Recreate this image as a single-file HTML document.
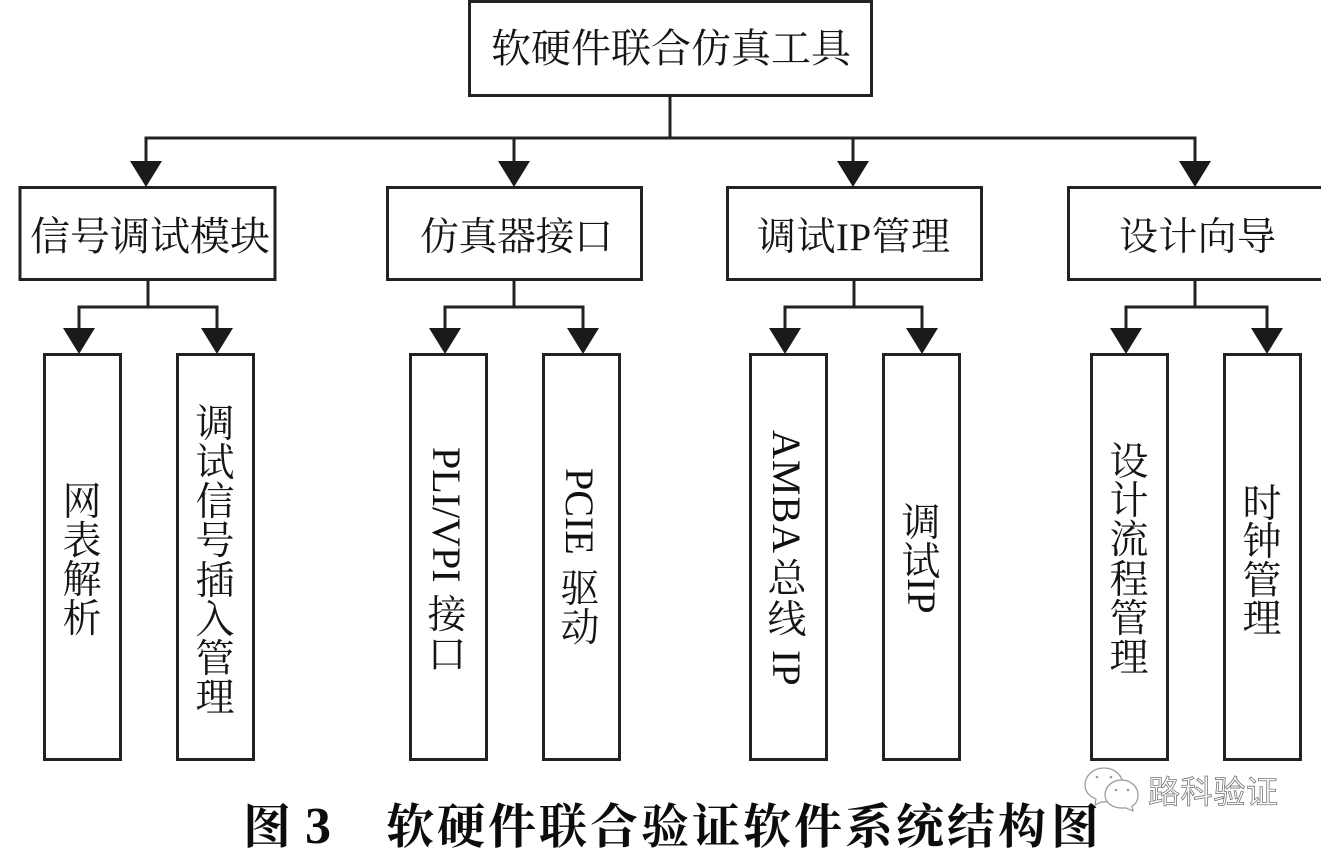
<!DOCTYPE html>
<html><head><meta charset="utf-8"><style>
html,body{margin:0;padding:0;background:#fff;width:1321px;height:850px;overflow:hidden}
svg{display:block}
.c{font-family:"Liberation Serif","Noto Serif CJK SC",serif;fill:#151515}
.r{font-family:"Liberation Serif","Noto Serif CJK SC",serif;fill:#111;font-size:40px}
</style></head><body>
<svg width="1321" height="850" viewBox="0 0 1321 850" xmlns="http://www.w3.org/2000/svg">
<rect width="1321" height="850" fill="#fff"/>
<g fill="#fff" stroke="#222" stroke-width="3">
<rect x="469.5" y="1.5" width="402" height="94"/>
<rect x="20" y="187.5" width="255" height="92"/>
<rect x="387.5" y="187.5" width="254" height="92"/>
<rect x="727.5" y="187.5" width="254" height="92"/>
<rect x="1068.5" y="187.5" width="254" height="92"/>
<rect x="44.5" y="354.5" width="76" height="405"/>
<rect x="177.5" y="354.5" width="76" height="405"/>
<rect x="410.5" y="354.5" width="76" height="405"/>
<rect x="543.5" y="354.5" width="76" height="405"/>
<rect x="750.5" y="354.5" width="76" height="405"/>
<rect x="883.5" y="354.5" width="76" height="405"/>
<rect x="1091.5" y="354.5" width="76" height="405"/>
<rect x="1224.5" y="354.5" width="76" height="405"/>
</g>
<g fill="none" stroke="#222" stroke-width="3">
<path d="M670 95V138M146 165V138H1195V165M514 138V165M853 138V165"/>
<path d="M148 280V307M79 332V307H217V332"/>
<path d="M514 280V307M445 332V307H583V332"/>
<path d="M854 280V307M785 332V307H922V332"/>
<path d="M1195 280V307M1126 332V307H1267V332"/>
</g>
<g fill="#1a1a1a">
<path d="M130 161H162L146 187ZM498 161H530L514 187ZM837 161H869L853 187ZM1179 161H1211L1195 187Z"/>
<path d="M63 328H95L79 354ZM201 328H233L217 354ZM429 328H461L445 354ZM567 328H599L583 354ZM769 328H801L785 354ZM906 328H938L922 354ZM1110 328H1142L1126 354ZM1251 328H1283L1267 354Z"/>
</g>

<text class="c" font-size="40" x="491" y="62" textLength="360" lengthAdjust="spacing">软硬件联合仿真工具</text>
<text class="c" font-size="40" x="30" y="250" textLength="240" lengthAdjust="spacing">信号调试模块</text>
<text class="c" font-size="39" x="420" y="250" textLength="193" lengthAdjust="spacing">仿真器接口</text>
<text class="c" font-size="39" x="757" y="250" textLength="193" lengthAdjust="spacing">调试IP管理</text>
<text class="c" font-size="39" x="1119" y="250" textLength="157" lengthAdjust="spacing">设计向导</text>

<g class="c" font-size="39" text-anchor="middle">
<text x="82 82 82 82" y="515 554 593 632">网表解析</text>
<text x="215 215 215 215 215 215 215 215" y="437 476 515 554 594 633 672 711">调试信号插入管理</text>
<text x="1129 1129 1129 1129 1129 1129" y="475 514 553 593 632 671">设计流程管理</text>
<text x="1262 1262 1262 1262" y="517 555 594 632">时钟管理</text>
<text x="921 921" y="536 575">调试</text>
<text x="447 447" y="628 668">接口</text>
<text x="580 580" y="602 641">驱动</text>
<text x="787 787" y="592 633">总线</text>
</g>

<text class="r" transform="rotate(90 433 447)" x="433" y="447">PLI/VPI</text>
<text class="r" transform="rotate(90 566 468)" x="566" y="468">PCIE</text>
<text class="r" transform="rotate(90 773 430)" x="773" y="430" textLength="123" lengthAdjust="spacing">AMBA</text>
<text class="r" transform="rotate(90 773 650)" x="773" y="650">IP</text>
<text class="r" transform="rotate(90 908 578)" x="908" y="578">IP</text>

<g font-family="&quot;Liberation Serif&quot;,&quot;Noto Serif CJK SC&quot;,serif" font-weight="700" fill="#0c0c0c" font-size="48" text-anchor="middle">
<text x="267" y="843">图</text>
<text x="318" y="843" font-size="52">3</text>
<text x="410 461 512 563 614 665 716 767 818 869 920 971 1022 1075" y="843">软硬件联合验证软件系统结构图</text>
</g>

<g fill="#fff" stroke="#999" stroke-width="1.2">
<path d="M1085 785c0-9 8-17 19-17s19 8 19 17-8 17-19 17c-1 0-2 0-3 0l-6 3 1-6c-7-3-11-8-11-14z"/>
<path d="M1105 795c0-8 7-15 16.500-15s16.500 7 16.500 15c0 5-2 9-6 11l1 5-7-3c-1 0-3 0-4.500 0-9.500 0-16.500-6-16.500-13z"/>
</g>
<g fill="#999"><circle cx="1097" cy="777" r="1.3"/><circle cx="1111" cy="777" r="1.3"/><circle cx="1116" cy="790" r="1.3"/><circle cx="1128" cy="790" r="1.3"/></g>
<text font-family="&quot;Liberation Sans&quot;,&quot;Noto Sans CJK SC&quot;,sans-serif" font-size="32" x="1148" y="803" textLength="130" lengthAdjust="spacing" fill="#fff" stroke="#777" stroke-width="0.8">路科验证</text>
</svg>
</body></html>
